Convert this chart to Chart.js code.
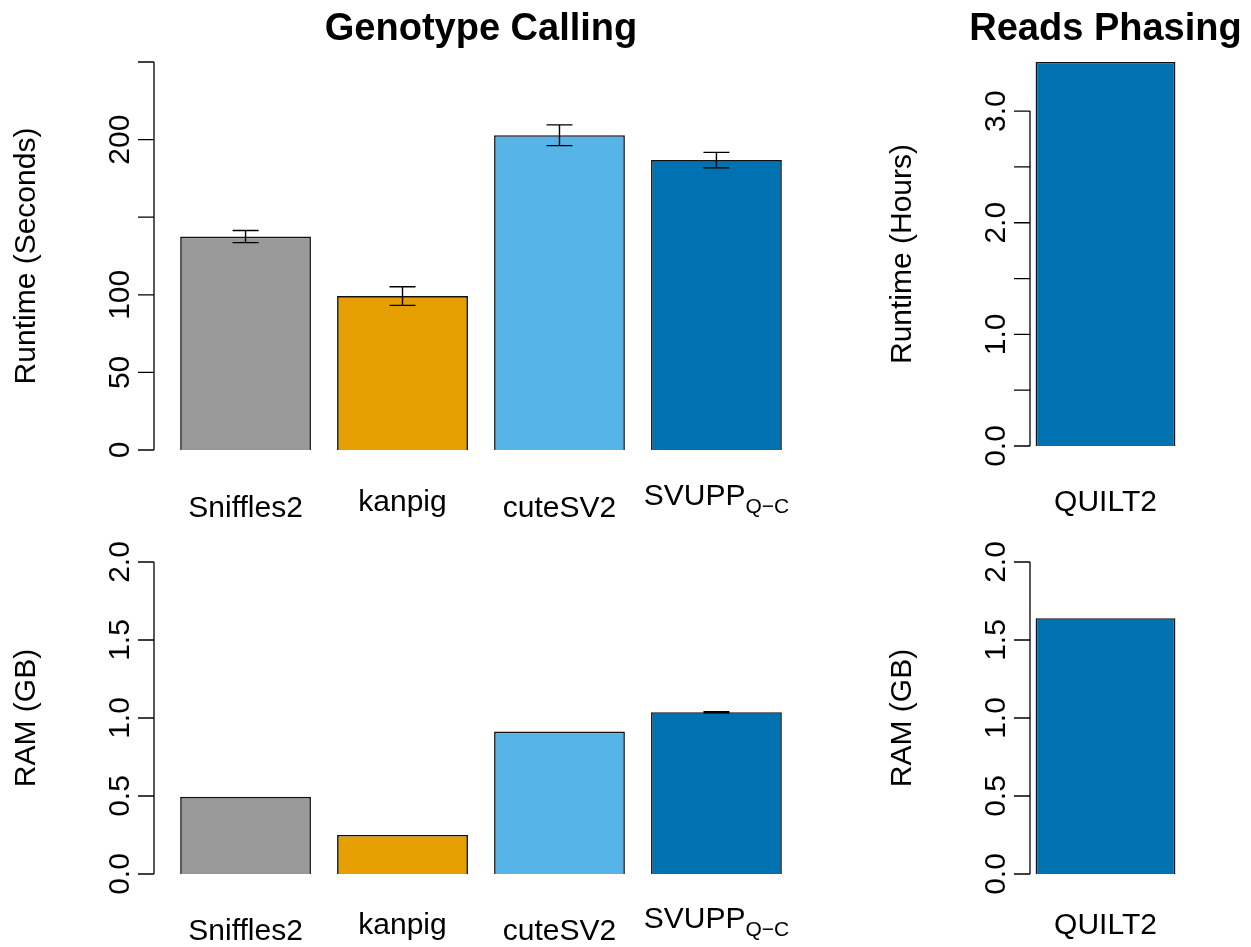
<!DOCTYPE html>
<html>
<head>
<meta charset="utf-8">
<script src="https://cdn.jsdelivr.net/npm/chart.js@4.4.1/dist/chart.umd.min.js"></script>
<style>
  html, body { margin: 0; padding: 0; background: #fff; }
  #wrap { position: relative; width: 1251px; height: 947px; overflow: hidden; }
  #wrap canvas { position: absolute; }
</style>
</head>
<body>
<div id="wrap">
  <canvas id="rtTools" width="840" height="540" style="left:0;top:0"></canvas>
  <canvas id="rtQuilt" width="411" height="540" style="left:840px;top:0"></canvas>
  <canvas id="ramTools" width="840" height="407" style="left:0;top:540px"></canvas>
  <canvas id="ramQuilt" width="411" height="407" style="left:840px;top:540px"></canvas>
</div>
<script>
// --- genotype callers ---
const tools = ['Sniffles2', 'kanpig', 'cuteSV2', 'SVUPP_Q−C'];
const toolColors = ['#999999', '#E69F00', '#56B4E9', '#0072B2'];
const runtimeSec = [137.5, 99.2, 202.8, 186.8];
const runtimeSecSd = [3.9, 6.0, 6.7, 5.0];
const ramGb = [0.495, 0.25, 0.913, 1.037];
const ramGbSd = [0, 0, 0, 0.004];

// --- read phasing ---
const phasers = ['QUILT2'];
const phaserColors = ['#0072B2'];
const runtimeHours = [3.44];
const phasingRamGb = [1.64];

// y ticks (empty label = tick mark only)
const secTicks = [0, 50, 100, 150, 200, 250];
const secTickLabels = ['0', '50', '100', '', '200', ''];
const hourTicks = [0, 0.5, 1, 1.5, 2, 2.5, 3];
const hourTickLabels = ['0.0', '', '1.0', '', '2.0', '', '3.0'];
const ramTicks = [0, 0.5, 1, 1.5, 2];
const ramTickLabels = ['0.0', '0.5', '1.0', '1.5', '2.0'];

const FONT = '"Liberation Sans", Arial, Helvetica, sans-serif';

// bar mids like base R barplot (width 1, space 0.2)
const mids = n => Array.from({ length: n }, (_, i) => 0.7 + 1.2 * i);

// label text, "_" starts a subscript
function drawName(ctx, name, cx, bottom) {
  const [main, sub] = name.split('_');
  ctx.font = '30px ' + FONT;
  const mm = ctx.measureText(main);
  let w = mm.width, subW = 0, drop = 0, inkBottom = mm.actualBoundingBoxDescent;
  if (sub) {
    ctx.font = '21px ' + FONT;
    const sm = ctx.measureText(sub);
    subW = sm.width;
    drop = 8;
    inkBottom = Math.max(inkBottom, drop + sm.actualBoundingBoxDescent);
  }
  const base = bottom - inkBottom;
  const left = cx - (w + subW) / 2;
  ctx.textAlign = 'left';
  ctx.textBaseline = 'alphabetic';
  ctx.font = '30px ' + FONT;
  ctx.fillText(main, left, base);
  if (sub) {
    ctx.font = '21px ' + FONT;
    ctx.fillText(sub, left + w, base + drop);
  }
}

const baseAxis = {
  id: 'baseAxis',
  afterDatasetsDraw(chart, args, o) {
    const { ctx, chartArea: a, scales: { x, y } } = chart;
    const ds = chart.data.datasets[0];
    ctx.save();
    ctx.strokeStyle = '#000';
    ctx.fillStyle = '#000';

    // error bars
    ctx.lineWidth = 1.4;
    (o.sd || []).forEach((s, i) => {
      if (!s) return;
      const p = ds.data[i];
      const px = x.getPixelForValue(p.x);
      const hi = y.getPixelForValue(p.y + s);
      const lo = y.getPixelForValue(p.y - s);
      ctx.beginPath();
      ctx.moveTo(px, hi); ctx.lineTo(px, lo);
      ctx.moveTo(px - 13, hi); ctx.lineTo(px + 13, hi);
      ctx.moveTo(px - 13, lo); ctx.lineTo(px + 13, lo);
      ctx.stroke();
    });

    // y axis: line over tick range, outward ticks
    const ticks = y.ticks;
    const ax = a.left;
    ctx.lineWidth = 1.3;
    ctx.beginPath();
    ctx.moveTo(ax, y.getPixelForValue(ticks[0].value));
    ctx.lineTo(ax, y.getPixelForValue(ticks[ticks.length - 1].value));
    ticks.forEach(t => {
      const py = y.getPixelForValue(t.value);
      ctx.moveTo(ax - 16, py); ctx.lineTo(ax, py);
    });
    ctx.stroke();

    // tick labels, rotated
    ctx.font = '30px ' + FONT;
    ctx.textAlign = 'center';
    ctx.textBaseline = 'alphabetic';
    ticks.forEach(t => {
      if (!t.label) return;
      ctx.save();
      ctx.translate(ax - 25, y.getPixelForValue(t.value));
      ctx.rotate(-Math.PI / 2);
      ctx.fillText(t.label, 0, 0);
      ctx.restore();
    });

    // y title
    ctx.save();
    ctx.translate(ax - 119, (a.top + a.bottom) / 2);
    ctx.rotate(-Math.PI / 2);
    ctx.fillText(o.ylab, 0, 0);
    ctx.restore();

    // bar names
    chart.data.labels.forEach((name, i) => {
      drawName(ctx, name, x.getPixelForValue(ds.data[i].x), o.nameBottom);
    });

    // panel title
    if (o.title) {
      ctx.font = 'bold 38px ' + FONT;
      ctx.textAlign = 'center';
      ctx.fillText(o.title, (a.left + a.right) / 2, 40);
    }
    ctx.restore();
  }
};

function panel(id, cfg) {
  const pos = mids(cfg.names.length);
  // bar width = 1 unit of the x scale
  const spacing = cfg.names.length > 1 ? 1.2 : cfg.xRange[1] - cfg.xRange[0];
  new Chart(document.getElementById(id), {
    type: 'bar',
    data: {
      labels: cfg.names,
      datasets: [{
        data: cfg.values.map((v, i) => ({ x: pos[i], y: v })),
        backgroundColor: cfg.colors,
        borderColor: '#111',
        borderWidth: 1.6,
        barPercentage: 1 / spacing,
        categoryPercentage: 1
      }]
    },
    options: {
      responsive: false,
      animation: false,
      devicePixelRatio: 1,
      events: [],
      layout: { padding: cfg.pad },
      plugins: {
        legend: { display: false },
        tooltip: { enabled: false },
        baseAxis: { sd: cfg.sd, ylab: cfg.ylab, title: cfg.title, nameBottom: cfg.nameBottom }
      },
      scales: {
        x: {
          type: 'linear', display: false, offset: false,
          min: cfg.xRange[0], max: cfg.xRange[1],
          afterBuildTicks: s => { s.ticks = []; }
        },
        y: {
          type: 'linear', display: false,
          min: 0, max: cfg.yMax,
          afterBuildTicks: s => { s.ticks = cfg.ticks.map(v => ({ value: v })); },
          ticks: { callback: (v, i) => cfg.tickLabels[i] }
        }
      }
    },
    plugins: [baseAxis]
  });
}

panel('rtTools', {
  names: tools, values: runtimeSec, sd: runtimeSecSd, colors: toolColors,
  ticks: secTicks, tickLabels: secTickLabels, yMax: 250,
  ylab: 'Runtime (Seconds)', title: 'Genotype Calling',
  xRange: [0, 5], pad: { left: 154, top: 62, right: 32, bottom: 90 }, nameBottom: 517
});
panel('rtQuilt', {
  names: phasers, values: runtimeHours, colors: phaserColors,
  ticks: hourTicks, tickLabels: hourTickLabels, yMax: Math.max(...runtimeHours),
  ylab: 'Runtime (Hours)', title: 'Reads Phasing',
  xRange: [0.16, 1.24], pad: { left: 190, top: 62, right: 70, bottom: 94 }, nameBottom: 517
});
panel('ramTools', {
  names: tools, values: ramGb, sd: ramGbSd, colors: toolColors,
  ticks: ramTicks, tickLabels: ramTickLabels, yMax: 2,
  ylab: 'RAM (GB)',
  xRange: [0, 5], pad: { left: 154, top: 22, right: 32, bottom: 73 }, nameBottom: 400
});
panel('ramQuilt', {
  names: phasers, values: phasingRamGb, colors: phaserColors,
  ticks: ramTicks, tickLabels: ramTickLabels, yMax: 2,
  ylab: 'RAM (GB)',
  xRange: [0.16, 1.24], pad: { left: 190, top: 22, right: 70, bottom: 73 }, nameBottom: 400
});
</script>
</body>
</html>
